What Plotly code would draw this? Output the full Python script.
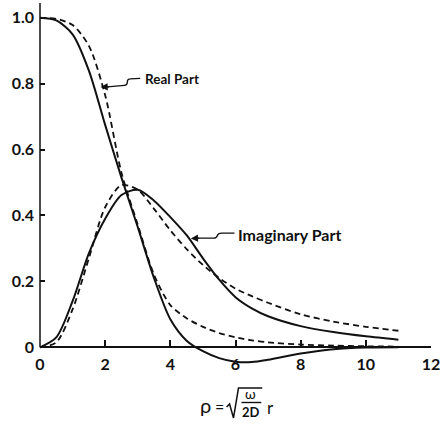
import plotly.graph_objects as go

# ---- data ----
rho = [0, 0.5, 1.0, 1.5, 2.0, 2.5, 3.0, 3.5, 4.0, 4.5, 5.0, 5.5, 6.0, 6.5, 7.0, 8.0, 9.0, 10.0, 11.0]
real_solid = [1.0, 0.992, 0.95, 0.84, 0.675, 0.515, 0.365, 0.21, 0.085, 0.02, -0.012, -0.033,
              -0.044, -0.045, -0.038, -0.019, -0.006, -0.001, 0.0]
real_dashed = [1.0, 0.997, 0.978, 0.915, 0.765, 0.53, 0.372, 0.22, 0.128, 0.088, 0.062, 0.043,
               0.03, 0.021, 0.015, 0.008, 0.005, 0.003, 0.002]
imag_solid = [0, 0.03, 0.14, 0.285, 0.39, 0.462, 0.478, 0.445, 0.395, 0.34, 0.27, 0.205,
              0.152, 0.118, 0.094, 0.064, 0.046, 0.033, 0.023]
imag_dashed = [0, 0.015, 0.115, 0.27, 0.425, 0.492, 0.478, 0.42, 0.355, 0.298, 0.25, 0.21,
               0.178, 0.155, 0.135, 0.1, 0.078, 0.062, 0.05]

x_ticks = [0, 2, 4, 6, 8, 10, 12]
x_ticktext = ["0", "2", "4", "6", "8", "10", "12"]
y_ticks = [0, 0.2, 0.4, 0.6, 0.8, 1.0]
y_ticktext = ["0", "0.2", "0.4", "0.6", "0.8", "1.0"]

INK = "#111111"
FONT = "Lato"
Y0, Y1 = -0.06, 1.045
ML, MR, MT, MB = 40, 9, 3, 59
W, HGT = 443, 426
PXU = (W - ML - MR) / 12.0

fig = go.Figure()
for ys, dash, w in [(real_solid, "solid", 2.0), (real_dashed, "6px,4px", 1.8),
                    (imag_solid, "solid", 2.0), (imag_dashed, "6px,4px", 1.8)]:
    fig.add_trace(go.Scatter(x=rho, y=ys, mode="lines",
                             line=dict(color=INK, width=w, dash=dash, shape="spline", smoothing=0.8),
                             showlegend=False, hoverinfo="skip"))

fig.update_layout(
    width=W, height=HGT,
    margin=dict(l=ML, r=MR, t=MT, b=MB),
    paper_bgcolor="white", plot_bgcolor="white",
    font=dict(family=FONT, size=16, color=INK),
    xaxis=dict(range=[0, 12], tickvals=x_ticks, ticktext=x_ticktext,
               showgrid=False, zeroline=False, showline=True, linecolor=INK, linewidth=1.5,
               ticks="inside", ticklen=6, tickwidth=1.5, tickcolor=INK,
               anchor="free", position=(0 - Y0) / (Y1 - Y0),
               tickfont=dict(family=FONT, size=16, color=INK, weight="bold"),
               ticklabelstandoff=3, ticklabeloverflow="allow"),
    yaxis=dict(range=[Y0, Y1], tickvals=y_ticks, ticktext=y_ticktext,
               showgrid=False, zeroline=False, showline=False,
               ticks="inside", ticklen=5, tickwidth=1.5, tickcolor=INK,
               tickfont=dict(family=FONT, size=16, color=INK, weight="bold"),
               ticklabelstandoff=5, ticklabeloverflow="allow"),
)

# vertical axis line from y=0 upwards
fig.add_shape(type="line", xref="paper", yref="y", x0=0, x1=0, y0=0, y1=Y1,
              line=dict(color=INK, width=1.5))

# ---- curve labels with squiggle arrows ----
def px2d(px, py):
    return (px - ML) / PXU, (347 - py) / 329.0

def path(points):
    s = ""
    for cmd, pts in points:
        s += cmd + " " + " ".join("%.4f,%.4f" % px2d(*p) for p in pts) + " "
    return s.strip()

# Real Part
fig.add_shape(type="path", xref="x", yref="y", line=dict(color=INK, width=1.3),
              path=path([("M", [(108, 87)]), ("L", [(125, 85.5)]),
                         ("C", [(131, 85), (125, 79), (131, 79)]), ("L", [(141, 78.5)])]))
tx, ty = px2d(101, 87.2)
ax_, ay_ = px2d(111, 86.8)
fig.add_annotation(x=tx, y=ty, ax=ax_, ay=ay_, axref="x", ayref="y", text="",
                   showarrow=True, arrowhead=2, arrowsize=1.1, arrowwidth=1.3, arrowcolor=INK)
lx, ly = px2d(144, 79)
fig.add_annotation(x=lx, y=ly, text="Real Part", showarrow=False, xanchor="left", yanchor="middle",
                   font=dict(family=FONT, size=13.5, color=INK, weight="bold"))

# Imaginary Part
fig.add_shape(type="path", xref="x", yref="y", line=dict(color=INK, width=1.3),
              path=path([("M", [(199, 238)]), ("L", [(215, 238)]),
                         ("C", [(221, 238), (216, 233), (223, 233)]), ("L", [(236, 233)])]))
tx, ty = px2d(192, 238.3)
ax_, ay_ = px2d(202, 238)
fig.add_annotation(x=tx, y=ty, ax=ax_, ay=ay_, axref="x", ayref="y", text="",
                   showarrow=True, arrowhead=2, arrowsize=1.1, arrowwidth=1.3, arrowcolor=INK)
lx, ly = px2d(237, 234)
fig.add_annotation(x=lx, y=ly, text="Imaginary Part", showarrow=False, xanchor="left", yanchor="middle",
                   font=dict(family=FONT, size=16, color=INK, weight="bold"))

# ---- x-axis title: rho = sqrt(omega / 2D) r ----
PW = W - ML - MR
PH = HGT - MT - MB
def paper(px, py):
    return (px - ML) / PW, (HGT - MB - py) / PH

def ptext(px, py, text, size=15):
    x, y = paper(px, py)
    fig.add_annotation(xref="paper", yref="paper", x=x, y=y, text=text, showarrow=False,
                       xanchor="center", yanchor="middle",
                       font=dict(family=FONT, size=size, color=INK))

ptext(207, 405, "ρ", 20)
ptext(221, 406, "=", 16)
ptext(252, 393.5, "ω", 14)
ptext(253, 411.5, "<b>2D</b>", 13)
ptext(272, 407, "r", 17)

rad = [(228, 407), (231, 404), (235, 418), (240, 388), (264, 388)]
pts = [paper(*p) for p in rad]
fig.add_shape(type="path", xref="paper", yref="paper", line=dict(color=INK, width=1.5),
              path="M " + " L ".join("%.4f,%.4f" % p for p in pts))
a, b = paper(243, 402.5), paper(263, 402.5)
fig.add_shape(type="line", xref="paper", yref="paper", x0=a[0], y0=a[1], x1=b[0], y1=b[1],
              line=dict(color=INK, width=1.4))

fig.write_html("out.html", config={"displayModeBar": False},
               post_script="document.body.style.margin='0px';")
